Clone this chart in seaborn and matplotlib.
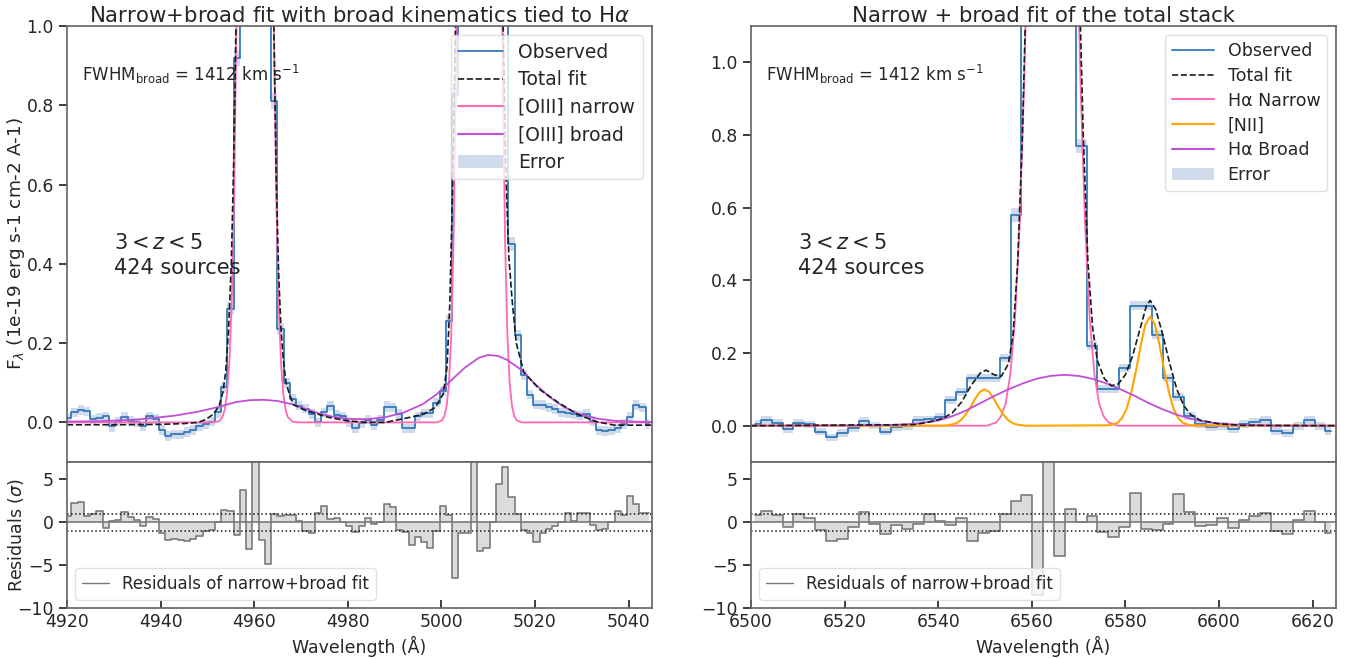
import numpy as np
import seaborn as sns
import matplotlib
matplotlib.use("Agg")
import matplotlib.pyplot as plt
from matplotlib.lines import Line2D
from matplotlib.patches import Patch

# ---------------- left panel : [OIII] stack ----------------
start_l, dlam_l = 4919.6, 1.334   # first bin edge and bin width (A)
obs_l = [0.01, 0.025, 0.031, 0.028, 0.008, 0.011, 0.015, -0.01, 0.002, 0.013,
         0.004, 0.0, -0.01, 0.015, 0.008, -0.019, -0.034, -0.03, -0.03, -0.024,
         -0.019, -0.01, -0.005, 0.002, 0.025, 0.089, 0.287, 0.92, 2.0, 5.0,
         7.0, 5.0, 2.0, 0.81, 0.236, 0.1, 0.06, 0.042, 0.035, 0.021,
         0.0, 0.025, 0.042, 0.018, 0.015, 0.0, -0.015, -0.002, 0.007, -0.007,
         0.007, 0.04, 0.038, 0.021, -0.015, -0.015, 0.015, 0.023, 0.023, 0.05,
         0.08, 0.255, 0.825, 2.0, 5.0, 12.0, 20.0, 14.0, 6.0, 2.5,
         1.3, 0.45, 0.22, 0.12, 0.07, 0.045, 0.044, 0.038, 0.034, 0.025,
         0.023, 0.02, 0.017, 0.021, 0.003, -0.02, -0.022, -0.02, -0.015, -0.004,
         0.013, 0.044, 0.038, -0.004]
err_l = [0.012, 0.012, 0.013, 0.012, 0.011, 0.012, 0.012, 0.013, 0.012, 0.012,
         0.012, 0.011, 0.012, 0.012, 0.012, 0.013, 0.012, 0.012, 0.012, 0.012,
         0.012, 0.012, 0.012, 0.012, 0.013, 0.014, 0.016, 0.02, 0.05, 0.05,
         0.05, 0.05, 0.05, 0.02, 0.015, 0.013, 0.012, 0.012, 0.012, 0.012,
         0.012, 0.012, 0.013, 0.012, 0.012, 0.012, 0.012, 0.012, 0.012, 0.012,
         0.012, 0.013, 0.012, 0.012, 0.012, 0.012, 0.012, 0.012, 0.012, 0.012,
         0.013, 0.015, 0.02, 0.08, 0.08, 0.08, 0.08, 0.08, 0.08, 0.08,
         0.03, 0.018, 0.014, 0.013, 0.012, 0.012, 0.012, 0.012, 0.012, 0.012,
         0.012, 0.012, 0.012, 0.012, 0.012, 0.012, 0.012, 0.012, 0.012, 0.012,
         0.013, 0.013, 0.012, 0.012]
res_l = [0.66, 2.2, 2.3, 0.7, 0.9, 1.25, -0.66, 0.1, 0.3, 1.17,
         0.6, 0.2, -0.5, 0.6, 0.4, -1.25, -2.07, -1.95, -2.07, -2.2,
         -1.95, -1.56, -1.05, -0.9, 0.0, 1.45, 1.3, -1.45, 3.8, -3.1,
         9.0, -2.07, -4.9, 1.0, 0.7, 0.86, 0.8, 0.1, -1.05, -1.3,
         1.05, 1.9, 0.4, 0.5, 0.0, -0.5, -1.1, -0.4, 0.5, -0.27,
         0.0, 2.07, 1.8, -0.94, -1.17, -2.7, -1.7, -2.3, -3.0, -1.0,
         1.9, 0.8, -6.5, -1.25, -1.3, 9.0, -3.4, -3.0, 0.0, 4.4,
         6.4, 2.9, 1.0, -0.94, -1.3, -2.3, -1.25, -0.8, -0.4, 0.0,
         1.1, 0.1, 1.1, 1.05, -0.3, -0.9, -0.8, 0.0, 1.3, 0.86,
         3.0, 2.1, 1.05, 1.05]

narrow_lam_l = [4920.0, 4951.0, 4952.2, 4952.7, 4953.2, 4953.7, 4954.2, 4954.7, 4955.2, 4955.7,
                4956.2, 4956.7, 4957.2, 4958.2, 4960.2, 4962.2, 4963.2, 4963.7, 4964.2, 4964.7,
                4965.2, 4965.7, 4966.2, 4966.7, 4967.2, 4968.2, 4969.4, 4999.1, 5000.1, 5000.6,
                5001.1, 5001.6, 5002.1, 5002.6, 5003.1, 5003.6, 5004.1, 5005.1, 5008.1, 5011.1,
                5012.1, 5012.6, 5013.1, 5013.6, 5014.1, 5014.6, 5015.1, 5015.6, 5016.1, 5017.1, 5045.0]
narrow_flux_l = [0, 0, 0.002, 0.005, 0.013, 0.032, 0.073, 0.155, 0.31, 0.57,
                 1.0, 1.64, 2.54, 4.6, 8.2, 4.6, 2.54, 1.64, 1.0, 0.57,
                 0.31, 0.155, 0.073, 0.032, 0.013, 0.002, 0, 0, 0.005, 0.015,
                 0.04, 0.096, 0.22, 0.46, 0.9, 1.7, 3.0, 7.7, 25, 7.7,
                 3.0, 1.7, 0.9, 0.46, 0.22, 0.096, 0.04, 0.015, 0.005, 0, 0]
broad_lam_l = [4920, 4927, 4935, 4943, 4948, 4952, 4956, 4959, 4962, 4965,
               4968, 4971, 4974, 4977, 4980, 4984, 4988, 4992, 4996, 4999,
               5002, 5005, 5008, 5010, 5012, 5014, 5017, 5020, 5023, 5026,
               5029, 5033, 5037, 5041, 5045]
broad_flux_l = [0.002, 0.003, 0.007, 0.017, 0.027, 0.038, 0.051, 0.056, 0.057, 0.054,
                0.046, 0.034, 0.022, 0.014, 0.009, 0.008, 0.013, 0.025, 0.046, 0.071,
                0.105, 0.138, 0.163, 0.17, 0.168, 0.158, 0.133, 0.097, 0.065, 0.04,
                0.023, 0.01, 0.004, 0.002, 0.001]
total_lam_l = [4920, 4930, 4940, 4945, 4948, 4949.6, 4951.3, 4952.5, 4953.3, 4953.9,
               4954.5, 4955.1, 4955.6, 4956.1, 4958.2, 4960.2, 4962.2, 4964.2, 4964.7, 4965.2,
               4965.7, 4966.2, 4966.8, 4967.6, 4968.5, 4971, 4975.8, 4980, 4984, 4988,
               4992.2, 4996.3, 4998.7, 5000.4, 5001.2, 5001.8, 5002.4, 5003.0, 5005.1, 5008.1,
               5011.1, 5013.2, 5013.8, 5014.4, 5015.1, 5016, 5017.6, 5020.9, 5025, 5029,
               5033, 5037, 5041, 5045]
total_flux_l = [-0.006, -0.006, -0.005, -0.003, 0.0, 0.007, 0.021, 0.042, 0.076, 0.127,
                0.23, 0.4, 0.65, 1.0, 4.6, 8.2, 4.6, 1.0, 0.62, 0.38,
                0.24, 0.16, 0.1, 0.068, 0.044, 0.03, 0.013, 0.004, 0.0, 0.0,
                0.01, 0.021, 0.038, 0.072, 0.14, 0.3, 0.6, 1.0, 7.7, 25,
                7.7, 1.0, 0.62, 0.42, 0.31, 0.2, 0.127, 0.084, 0.05, 0.021,
                0.002, -0.007, -0.007, -0.007]

# ---------------- right panel : Halpha + [NII] stack ----------------
start_r, dlam_r = 6499.8, 2.32
obs_r = [0.006, 0.016, 0.008, -0.01, 0.008, 0.004, -0.016, -0.032, -0.02, -0.007,
         0.013, 0.0, -0.016, -0.004, -0.002, 0.016, 0.018, 0.025, 0.072, 0.093,
         0.13, 0.13, 0.132, 0.186, 0.58, 2.0, 5.0, 5.0, 3.5, 1.5,
         0.77, 0.22, 0.1, 0.1, 0.16, 0.33, 0.33, 0.25, 0.13, 0.08,
         0.026, 0.004, -0.003, -0.001, -0.009, 0.006, 0.011, 0.016, -0.015, -0.019,
         -0.002, 0.016, 0.0, -0.015]
err_r = [0.01, 0.01, 0.01, 0.01, 0.01, 0.01, 0.01, 0.01, 0.01, 0.01,
         0.01, 0.01, 0.01, 0.01, 0.01, 0.01, 0.01, 0.01, 0.011, 0.011,
         0.011, 0.011, 0.011, 0.012, 0.018, 0.05, 0.05, 0.05, 0.05, 0.05,
         0.02, 0.013, 0.011, 0.011, 0.011, 0.012, 0.012, 0.012, 0.011, 0.011,
         0.011, 0.011, 0.011, 0.011, 0.011, 0.011, 0.011, 0.011, 0.011, 0.011,
         0.011, 0.011, 0.011, 0.011]
res_r = [0.8, 1.3, 0.86, -0.6, 1.0, 0.5, -0.9, -2.2, -1.95, -0.6,
         1.17, -0.2, -1.37, -0.3, -0.8, -0.2, 1.0, 0.1, -0.3, 0.5,
         -2.15, -1.3, -1.05, 1.0, 2.5, 3.2, -8.5, 9.0, -4.0, 1.56,
         0.0, 0.66, -1.17, -1.76, -0.6, 3.4, -0.8, -0.9, -0.2, 3.3,
         1.17, -0.4, -0.3, 0.5, -0.66, 0.3, 0.66, 1.1, -1.05, -1.37,
         0.27, 1.3, 0.0, -1.3]

narrow_lam_r = [6500, 6550.4, 6552.4, 6553.4, 6554.4, 6555.4, 6556.4, 6557.4, 6558.4, 6559.4,
                6561.4, 6564.4, 6567.4, 6569.4, 6570.4, 6571.4, 6572.4, 6573.4, 6574.4, 6575.4,
                6576.4, 6578.4, 6625]
narrow_flux_r = [0, 0, 0.009, 0.025, 0.06, 0.14, 0.29, 0.55, 0.95, 1.53,
                 3.05, 4.5, 3.05, 1.53, 0.95, 0.55, 0.29, 0.14, 0.06, 0.025,
                 0.009, 0, 0]
nii_lam_r = [6500, 6540.9, 6541.9, 6542.9, 6543.9, 6544.9, 6545.9, 6546.9, 6547.9, 6548.9,
             6549.9, 6550.9, 6551.9, 6552.9, 6553.9, 6554.9, 6555.9, 6556.9, 6557.9, 6558.9,
             6576.3, 6577.3, 6578.3, 6579.3, 6580.3, 6581.3, 6582.3, 6583.3, 6584.3, 6585.3,
             6586.3, 6587.3, 6588.3, 6589.3, 6590.3, 6591.3, 6592.3, 6593.3, 6594.3, 6625]
nii_flux_r = [0, 0.0, 0.001, 0.003, 0.007, 0.016, 0.031, 0.051, 0.074, 0.093,
              0.1, 0.093, 0.074, 0.051, 0.031, 0.016, 0.007, 0.003, 0.001, 0.0,
              0.001, 0.003, 0.008, 0.021, 0.047, 0.093, 0.153, 0.222, 0.279, 0.3,
              0.279, 0.222, 0.153, 0.093, 0.047, 0.021, 0.008, 0.003, 0.001, 0]
broad_lam_r = [6500, 6520, 6530, 6535, 6540, 6543, 6546, 6549, 6552, 6555,
               6558, 6561, 6564, 6567, 6570, 6573, 6576, 6579, 6582, 6585,
               6588, 6591, 6594, 6597, 6600, 6605, 6612, 6625]
broad_flux_r = [0, 0.0005, 0.002, 0.005, 0.014, 0.026, 0.042, 0.062, 0.082, 0.1,
                0.116, 0.129, 0.137, 0.14, 0.137, 0.129, 0.116, 0.1, 0.082, 0.062,
                0.045, 0.03, 0.019, 0.011, 0.006, 0.002, 0.0, 0.0]
total_lam_r = [6500, 6535, 6538, 6541, 6543, 6545, 6547, 6549, 6550.2, 6552,
               6553.5, 6555, 6556, 6557, 6558, 6558.6, 6561.4, 6564.4, 6567.4, 6570.4,
               6571, 6572, 6573, 6574, 6575.5, 6577, 6578.5, 6580, 6581.5, 6583,
               6584.5, 6585.3, 6586.5, 6588, 6589.5, 6591, 6592.5, 6594, 6596, 6600,
               6605, 6625]
total_flux_r = [0.0, 0.003, 0.01, 0.02, 0.035, 0.065, 0.11, 0.145, 0.153, 0.14,
                0.136, 0.17, 0.25, 0.45, 0.8, 1.1, 3.1, 4.6, 3.1, 1.1,
                0.8, 0.45, 0.27, 0.18, 0.13, 0.11, 0.115, 0.14, 0.19, 0.26,
                0.33, 0.345, 0.32, 0.25, 0.17, 0.1, 0.055, 0.03, 0.015, 0.005,
                0.001, 0.0]

# colours
c_obs = "#3479ba"
c_err = "#b0c4de"
c_narrow = "#ff69b4"
c_broad = "#c04fd6"
c_nii = "orange"

sns.set_theme(style="ticks")
plt.rcParams["font.family"] = ["DejaVu Sans"]
plt.rcParams["axes.edgecolor"] = "0.4"
plt.rcParams["mathtext.fontset"] = "dejavusans"

fig = plt.figure(figsize=(13.6, 6.59), dpi=100)
h_top, h_bot, y0 = 0.6616, 0.2215, 0.0774
ax_lt = fig.add_axes([0.0493, y0 + h_bot, 0.4301, h_top])
ax_lb = fig.add_axes([0.0493, y0, 0.4301, h_bot], sharex=ax_lt)
ax_rt = fig.add_axes([0.5522, y0 + h_bot, 0.4301, h_top])
ax_rb = fig.add_axes([0.5522, y0, 0.4301, h_bot], sharex=ax_rt)

TICK = 12.4


def spectrum_panel(ax, lam, obs, err):
    obs = np.array(obs)
    err = np.array(err)
    ax.fill_between(lam, obs - err, obs + err, step="mid", color=c_err,
                    alpha=0.6, lw=0)
    sns.lineplot(x=lam, y=obs, ax=ax, color=c_obs, lw=1.3,
                 drawstyle="steps-mid", legend=False)
    ax.tick_params(axis="x", bottom=False, labelbottom=False)
    ax.tick_params(axis="y", length=6, labelsize=TICK)


def model_line(ax, x, y, color, ls="-", lw=1.3):
    sns.lineplot(x=x, y=y, ax=ax, color=color, lw=lw, ls=ls, sort=False,
                 estimator=None, legend=False)


def residual_panel(ax, lam, res):
    ax.fill_between(lam, 0, res, step="mid", color="#d9d9d9", alpha=0.9, lw=0)
    sns.lineplot(x=lam, y=res, ax=ax, color="#7a7a7a", lw=1.2,
                 drawstyle="steps-mid", legend=False)
    ax.axhline(0, color="#7a7a7a", lw=1.2)
    ax.axhline(1, color="k", ls=":", lw=1.1)
    ax.axhline(-1, color="k", ls=":", lw=1.1)
    ax.set_ylim(-10, 7)
    ax.set_yticks([-10, -5, 0, 5])
    ax.set_xlabel("Wavelength (Å)", fontsize=12.5)
    ax.tick_params(axis="x", direction="in", length=6, labelsize=TICK)
    ax.tick_params(axis="y", length=6, labelsize=TICK)
    leg = ax.legend(handles=[Line2D([], [], color="#7a7a7a", lw=1)],
                    labels=["Residuals of narrow+broad fit"], loc="lower left",
                    fontsize=12, handlelength=1.6, framealpha=0.8)
    leg.get_frame().set_edgecolor("0.85")


def annotate(ax):
    ax.text(0.026, 0.875, r"FWHM$_{\rm broad}$ = 1412 km s$^{-1}$",
            transform=ax.transAxes, fontsize=12)
    ax.text(0.08, 0.525, "$3 < z < 5$\n424 sources", transform=ax.transAxes,
            fontsize=15, va="top", linespacing=1.3)


# ---- left ----
lam_l = start_l + dlam_l * (np.arange(len(obs_l)) + 0.5)
spectrum_panel(ax_lt, lam_l, obs_l, err_l)
model_line(ax_lt, narrow_lam_l, narrow_flux_l, c_narrow)
model_line(ax_lt, broad_lam_l, broad_flux_l, c_broad)
model_line(ax_lt, total_lam_l, total_flux_l, "k", ls="--", lw=1.2)
ax_lt.set_xlim(4920, 5045)
ax_lt.set_ylim(-0.1, 1.0)
ax_lt.set_yticks([0.0, 0.2, 0.4, 0.6, 0.8, 1.0])
ax_lt.set_ylabel(r"F$_\lambda$ (1e-19 erg s-1 cm-2 A-1)", fontsize=13.3)
ax_lt.yaxis.set_label_coords(-0.068, 0.5)
ax_lt.set_title(r"Narrow+broad fit with broad kinematics tied to H$\alpha$",
                fontsize=15.3, pad=3)
handles = [Line2D([], [], color=c_obs, lw=1.3),
           Line2D([], [], color="k", ls="--", lw=1.2),
           Line2D([], [], color=c_narrow, lw=1.5),
           Line2D([], [], color=c_broad, lw=1.5),
           Patch(color=c_err, alpha=0.6, lw=0)]
leg = ax_lt.legend(handles, ["Observed", "Total fit", "[OIII] narrow",
                             "[OIII] broad", "Error"],
                   loc="upper right", fontsize=13.5, handlelength=2.4,
                   framealpha=0.8, labelspacing=0.45)
leg.get_frame().set_edgecolor("0.85")
annotate(ax_lt)

residual_panel(ax_lb, lam_l, res_l)
ax_lb.set_xticks([4920, 4940, 4960, 4980, 5000, 5020, 5040])
ax_lb.set_ylabel(r"Residuals ($\sigma$)", fontsize=12.5)
ax_lb.yaxis.set_label_coords(-0.07, 0.5)

# ---- right ----
lam_r = start_r + dlam_r * (np.arange(len(obs_r)) + 0.5)
spectrum_panel(ax_rt, lam_r, obs_r, err_r)
model_line(ax_rt, narrow_lam_r, narrow_flux_r, c_narrow)
model_line(ax_rt, nii_lam_r, nii_flux_r, c_nii, lw=1.5)
model_line(ax_rt, broad_lam_r, broad_flux_r, c_broad)
model_line(ax_rt, total_lam_r, total_flux_r, "k", ls="--", lw=1.2)
ax_rt.set_xlim(6500, 6625)
ax_rt.set_ylim(-0.1, 1.1)
ax_rt.set_yticks([0.0, 0.2, 0.4, 0.6, 0.8, 1.0])
ax_rt.set_title("Narrow + broad fit of the total stack", fontsize=15.3, pad=3)
handles = [Line2D([], [], color=c_obs, lw=1.3),
           Line2D([], [], color="k", ls="--", lw=1.2),
           Line2D([], [], color=c_narrow, lw=1.5),
           Line2D([], [], color=c_nii, lw=1.5),
           Line2D([], [], color=c_broad, lw=1.5),
           Patch(color=c_err, alpha=0.6, lw=0)]
leg = ax_rt.legend(handles, ["Observed", "Total fit", "Hα Narrow", "[NII]",
                             "Hα Broad", "Error"],
                   loc="upper right", fontsize=12.5, handlelength=2.4,
                   framealpha=0.8, labelspacing=0.4)
leg.get_frame().set_edgecolor("0.85")
annotate(ax_rt)

residual_panel(ax_rb, lam_r, res_r)
ax_rb.set_xticks([6500, 6520, 6540, 6560, 6580, 6600, 6620])

fig.savefig("out.png", dpi=100)
